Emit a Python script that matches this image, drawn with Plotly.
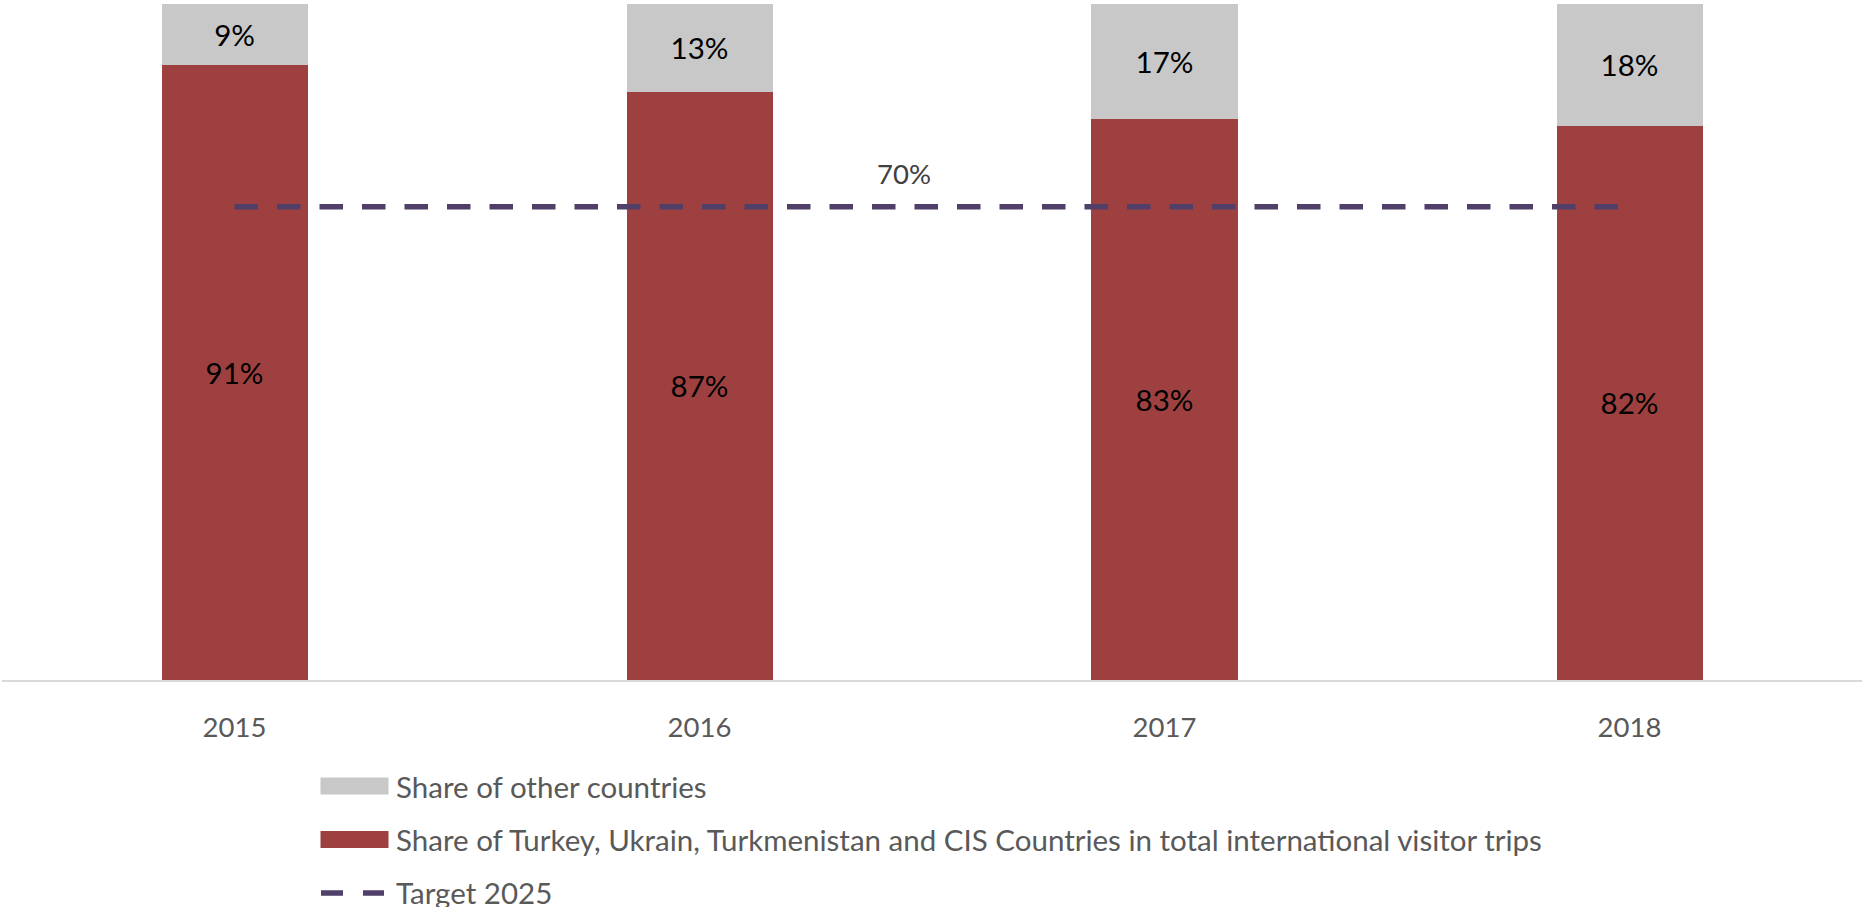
import plotly.graph_objects as go

# Chart data
years = ["2015", "2016", "2017", "2018"]
main_share = [91, 87, 83, 82]      # Turkey, Ukrain, Turkmenistan and CIS
other_share = [9, 13, 17, 18]      # other countries
target_2025 = 70

main_name = "Share of Turkey, Ukrain, Turkmenistan and CIS Countries in total international visitor trips"
other_name = "Share of other countries"
target_name = "Target 2025"

RED = "#9E4040"
GREY = "#C8C8C8"
PURPLE = "#4F3F69"
FONT = "Lato"

W, H = 1862, 907
ML, MR, MT, MB = 2, 0, 4, 227
PW, PH = W - ML - MR, H - MT - MB


def px_x(px):
    return (px - ML) / PW


def px_y(py):
    return (H - MB - py) / PH


fig = go.Figure()

fig.add_trace(go.Bar(
    x=years, y=main_share, name=main_name,
    marker=dict(color=RED, line=dict(width=0)),
    texttemplate="%{y}%", textposition="inside", insidetextanchor="middle",
    textfont=dict(family=FONT, size=29.5, color="#000000"),
    width=0.314, showlegend=False,
))
fig.add_trace(go.Bar(
    x=years, y=other_share, name=other_name,
    marker=dict(color=GREY, line=dict(width=0)),
    texttemplate="%{y}%", textposition="inside", insidetextanchor="middle",
    textfont=dict(family=FONT, size=29.5, color="#000000"),
    width=0.314, showlegend=False,
))
fig.add_trace(go.Scatter(
    x=years, y=[target_2025] * len(years), name=target_name,
    mode="lines", line=dict(color=PURPLE, width=5.5, dash="23.5px,19px"),
    showlegend=False,
))

# target value label above the dashed line
fig.add_annotation(
    x=1.44, y=target_2025, xref="x", yref="y", text=f"{target_2025}%",
    showarrow=False, yshift=33,
    font=dict(family=FONT, size=27.5, color="#404040"),
)

# legend drawn below the plot
legend_rows = [
    (786, "bar", GREY, other_name),
    (839.5, "bar", RED, main_name),
    (892, "line", PURPLE, target_name),
]
for py, kind, color, label in legend_rows:
    if kind == "bar":
        fig.add_shape(
            type="rect", xref="paper", yref="paper",
            x0=px_x(320.5), x1=px_x(388.5), y0=px_y(py - 8.5), y1=px_y(py + 8.5),
            fillcolor=color, line=dict(width=0),
        )
    else:
        fig.add_shape(
            type="line", xref="paper", yref="paper",
            x0=px_x(321), x1=px_x(384), y0=px_y(py + 1), y1=px_y(py + 1),
            line=dict(color=color, width=5.5, dash="22px,20px"),
        )
    fig.add_annotation(
        x=px_x(394), y=px_y(py), xref="paper", yref="paper",
        xanchor="left", yanchor="middle", text=label, showarrow=False,
        font=dict(family=FONT, size=29.5, color="#595959"),
    )

fig.update_layout(
    width=W, height=H,
    margin=dict(l=ML, r=MR, t=MT, b=MB, pad=0),
    barmode="stack",
    plot_bgcolor="white", paper_bgcolor="white",
    font=dict(family=FONT, color="#595959"),
    showlegend=False,
)
fig.update_xaxes(
    type="category", range=[-0.5, 3.5],
    showline=True, linecolor="#D9D9D9", linewidth=1.5,
    showgrid=False, ticks="", ticklabelstandoff=22,
    tickfont=dict(family=FONT, size=27.5, color="#595959"),
)
fig.update_yaxes(
    range=[0, 100], visible=False, showgrid=False, zeroline=False,
)

fig.write_html("out.html")
